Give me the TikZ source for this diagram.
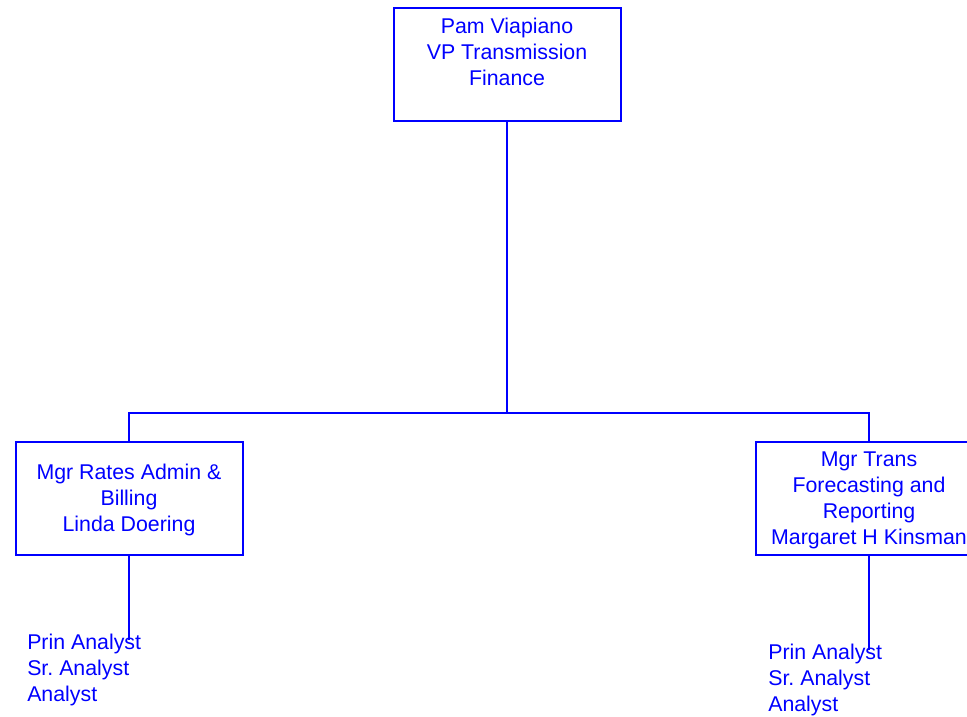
\documentclass[tikz,border=0pt]{standalone}
\usepackage{fontspec}
\setmainfont{Liberation Sans}
\usetikzlibrary{positioning}
\frenchspacing

\tikzset{
  orgbox/.style = {draw, blue, line width = 1.5pt, minimum width = 170.25pt,
                   minimum height = 84.75pt, inner sep = 0pt, align = center},
  orgtxt/.style = {blue, inner sep = 0pt, align = center},
  stafftxt/.style = {blue, inner sep = 0pt, align = left, anchor = west},
  orgline/.style = {blue, line width = 1.5pt}
}

\begin{document}
\begin{tikzpicture}[x = 0.75pt, y = -0.75pt,
  every node/.style = {font = \fontsize{16}{19.5}\selectfont}]
\useasboundingbox (0,0) rectangle (967,717);
% boxes
\node [orgbox] (vp) at (507,64.5) {};
\node [orgtxt] (vptext) at (507,51.5) {Pam Viapiano\\VP Transmission\\Finance};
\node [orgbox] (rates) at (129,498.5) {};
\node [orgtxt] (ratestext) at (129,499.5) {Mgr Rates Admin \&\\Billing\\Linda Doering};
\node [orgbox] (trans) at (869,498.5) {};
\node [orgtxt] (transtext) at (869,500.5) {Mgr Trans\\Forecasting and\\Reporting\\Margaret H Kinsman};
% staff lists
\node [stafftxt] (ratesstaff) at (27,670) {Prin Analyst\\Sr. Analyst\\Analyst};
\node [stafftxt] (transstaff) at (768,680) {Prin Analyst\\Sr. Analyst\\Analyst};
\coordinate (ratesend) at (129,640);
\coordinate (transend) at (869,650);
\coordinate (split) at (507,413);
% connectors
\draw [orgline] (vp.south) -- (split);
\draw [orgline] (split) -| (rates.north);
\draw [orgline] (split) -| (trans.north);
\draw [orgline] (rates.south) -- (ratesend);
\draw [orgline] (trans.south) -- (transend);
\end{tikzpicture}
\end{document}
